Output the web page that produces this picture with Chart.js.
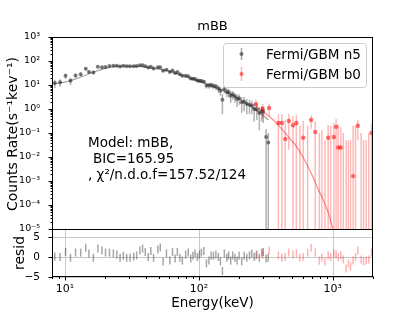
<!DOCTYPE html>
<html>
<head>
<meta charset="utf-8">
<script src="https://cdn.jsdelivr.net/npm/chart.js@4.4.0/dist/chart.umd.min.js"></script>
<style>
html, body { margin: 0; padding: 0; background: #fff; }
</style>
</head>
<body>
<canvas id="chart" width="415" height="311"></canvas>
<script>
const FONT = '"DejaVu Sans", sans-serif';

// Fermi/GBM n5 (NaI)
const n5Energy = [8.4, 9.2, 10.1, 11.0, 12.0, 13.1, 14.3, 15.1, 16.3, 17.6, 18.9, 20.1, 21.5, 23.0, 24.4, 25.8,
    27.3, 28.9, 30.6, 32.6, 34.3, 36.3, 38.0, 39.8, 41.9, 43.8, 45.9, 49.4, 51.5, 54.1, 57.3, 60.7, 63.6, 66.5,
    69.1, 72.2, 75.3, 79.7, 83.3, 87.0, 90.4, 93.7, 97.5, 101, 104.5, 109, 114, 119, 123.7, 128.6, 134, 140,
    145, 150, 155, 162, 167, 173, 179, 186, 193, 200, 209, 218, 228, 239, 249, 259, 271, 283, 295, 303, 318, 330];
const n5Rate = [12, 13, 24, 15, 25, 28, 47, 35, 33, 58, 55, 56, 62, 63, 63, 59,
    63, 60, 60, 61, 62, 66, 66, 60, 54, 57, 49, 55, 55, 39, 43, 35, 40, 32,
    35, 28, 24, 24, 23, 18.6, 18.2, 17.8, 15.5, 15.1, 14.8, 13.8, 9.5, 9.5, 10, 9.1, 8.7, 7.2,
    5.8, 2.4, 6.6, 5.1, 5.0, 3.6, 4.0, 3.3, 2.6, 2.8, 1.9, 2.0, 1.6, 1.5, 1.4, 1.0, 0.95, 0.68, 0.8, 0.76, 0.068, 0.04];
const n5Err = [4.5, 4.5, 6, 5, 5, 5, 6, 5, 5, 6, 5, 5, 5, 5, 5, 5,
    4.5, 4.5, 4.5, 4.5, 4.5, 4.5, 4.5, 4, 4, 4, 4, 4, 4, 4, 4, 3.5, 3.5, 3.5,
    3, 3, 3, 3, 3, 2.5, 2.5, 2.5, 2.5, 2.5, 2.5, 2.5, 2.5, 2.5, 2.5, 2.5, 2.5, 2.5,
    2.3, 1.8, 2.2, 2, 2, 1.8, 1.6, 1.5, 1.4, 1.3, 1.2, 1.2, 1.0, 0.9, 0.8, 0.7, 0.6, 0.55, 0.5, 0.5, 0.08, 0.06];
const n5Resid = [0.1, 0, 1.25, -0.2, 1.1, 1.1, 2.3, 0.9, -0.2, 2.1, 1.6, 1.1, 1.1, 0.9, 0.6, -0.2,
    0.3, -0.2, -0.2, 0.1, 0.4, 1.6, 2.1, 1.25, 0, 1.5, -0.2, 1.9, 2.4, -1.1, 0.9, -0.9, 1.25, -0.4,
    1.25, -0.2, -0.9, 0.6, 1.1, -0.4, 0.3, 0.9, 0, 0.6, 1.1, 1.5, -1.6, -0.9, 0.4, 0.3, 0.6, 0,
    -1.1, -3.5, 0.9, -0.2, 0.4, -0.9, 0.4, -0.2, -0.9, 0.3, -1.1, 0.3, -0.2, 0.4, 0.9, 0, 0.6, -0.2, 1.1, 1.25, -0.4, -0.2];

// Fermi/GBM b0 (BGO)
const b0Energy = [267, 300, 335, 393, 417, 442, 470, 505, 535, 568, 602, 650, 690, 740, 795, 830, 875, 925,
    965, 1020, 1060, 1100, 1150, 1200, 1260, 1310, 1360, 1420, 1480, 1540, 1630, 1700, 1780, 1860, 1950];
const b0Rate = [1.6, 1.0, 1.1, 0.26, 0.26, 0.056, 0.32, 0.21, 0.26, -0.05, 0.063, 0.0, 0.35, 0.11, -0.1, -0.02, -0.15, 0.063,
    0.0, 0.068, 0.18, 0.025, 0.025, -0.1, -0.3, -0.2, -0.3, 0.0016, 0.0, 0.2, -0.1, -0.2, -0.15, -0.1, 0.1];
const b0Err = [0.8, 0.6, 0.6, 0.35, 0.35, 0.3, 0.3, 0.3, 0.3, 0.25, 0.25, 0.2, 0.2, 0.2, 0.2, 0.15, 0.2, 0.15,
    0.2, 0.2, 0.2, 0.2, 0.15, 0.2, 0.35, 0.25, 0.35, 0.2, 0.2, 0.15, 0.2, 0.25, 0.2, 0.2, 0.15];
const b0Resid = [0.4, 0.6, 1.6, 0.4, -0.2, 0, 1.1, 0.6, 0.9, -0.2, 0, 1.1, 2.3, 1.1, -0.9, -0.2, -1.1, 0.4,
    0, 0.9, 0.6, 0, 0.4, -0.6, -2.9, -1.6, -2.4, -0.9, 0, 1.6, -0.6, -1.1, -0.9, -0.6, 1.1];

// fitted mBB model, folded through each detector
const modelN5Energy = [8.2, 10, 13, 16.4, 22, 29, 36, 44, 58, 82, 115, 172, 230, 300, 330];
const modelN5Rate = [11.2, 13.2, 21, 35, 56, 62, 59, 51, 40, 21, 11, 4.2, 1.6, 0.56, 0.35];
const modelB0Energy = [268, 300, 350, 400, 470, 540, 620, 700, 780, 850, 930, 1005];
const modelB0Rate = [1.3, 0.79, 0.4, 0.19, 0.066, 0.026, 0.007, 0.0018, 0.00045, 0.00016, 0.000045, 0.00001];

// ticks
const xTickValues = [10, 100, 1000];
const xTickLabels = ['10¹', '10²', '10³'];
const yTickValues = [1e-5, 1e-4, 1e-3, 1e-2, 1e-1, 1, 10, 100, 1000];
const yTickLabels = ['10⁻⁵', '10⁻⁴', '10⁻³', '10⁻²', '10⁻¹', '10⁰', '10¹', '10²', '10³'];
const residTickValues = [-5, 0, 5];
const residTickLabels = ['−5', '0', '5'];

function toXY(xs, ys) {
    const out = [];
    for (let i = 0; i < xs.length; i++) {
        if (ys[i] > 0) out.push({x: xs[i], y: ys[i]});
    }
    return out;
}

function errBars(ctx, xs, ys, errs, sx, sy, color) {
    ctx.save();
    ctx.beginPath();
    ctx.rect(sx.left, sy.top, sx.right - sx.left, sy.bottom - sy.top);
    ctx.clip();
    ctx.strokeStyle = color;
    ctx.lineWidth = 1.5;
    const isLog = sy.type === 'logarithmic';
    for (let i = 0; i < xs.length; i++) {
        const hi = ys[i] + errs[i], lo = ys[i] - errs[i];
        if (isLog && hi <= 0) continue;
        const px = sx.getPixelForValue(xs[i]);
        const top = sy.getPixelForValue(hi);
        const bot = (isLog && lo <= 0) ? sy.bottom + 2 : sy.getPixelForValue(lo);
        ctx.beginPath();
        ctx.moveTo(px, top);
        ctx.lineTo(px, bot);
        ctx.stroke();
    }
    ctx.restore();
}

function hline(ctx, x1, x2, y) {
    ctx.beginPath(); ctx.moveTo(x1, y); ctx.lineTo(x2, y); ctx.stroke();
}
function vline(ctx, x, y1, y2) {
    ctx.beginPath(); ctx.moveTo(x, y1); ctx.lineTo(x, y2); ctx.stroke();
}

const decor = {
    id: 'decor',
    beforeDatasetsDraw(chart) {
        const ctx = chart.ctx;
        const sx = chart.scales.x, sy = chart.scales.y, sr = chart.scales.yr;
        // grid of the residual panel
        ctx.save();
        ctx.strokeStyle = '#c8c8c8';
        ctx.lineWidth = 1;
        xTickValues.forEach(v => vline(ctx, Math.round(sx.getPixelForValue(v)) + 0.5, sr.top, sr.bottom));
        residTickValues.forEach(v => hline(ctx, sx.left, sx.right, Math.round(sr.getPixelForValue(v)) + 0.5));
        ctx.restore();

        errBars(ctx, n5Energy, n5Rate, n5Err, sx, sy, 'rgba(0,0,0,0.3)');
        errBars(ctx, b0Energy, b0Rate, b0Err, sx, sy, 'rgba(255,0,0,0.28)');
        errBars(ctx, n5Energy, n5Resid, n5Resid.map(() => 1), sx, sr, 'rgba(0,0,0,0.35)');
        errBars(ctx, b0Energy, b0Resid, b0Resid.map(() => 1), sx, sr, 'rgba(255,0,0,0.3)');
    },
    afterDraw(chart) {
        const ctx = chart.ctx;
        const sx = chart.scales.x, sy = chart.scales.y, sr = chart.scales.yr;
        ctx.save();
        // spines
        ctx.strokeStyle = '#000';
        ctx.lineWidth = 1;
        const L = Math.round(sx.left) + 0.5, R = Math.round(sx.right) - 0.5;
        ctx.strokeRect(L, Math.round(sy.top) + 0.5, R - L, Math.round(sy.bottom) - Math.round(sy.top));
        ctx.strokeRect(L, Math.round(sr.top) + 0.5, R - L, Math.round(sr.bottom) - Math.round(sr.top) - 1);

        // tick marks
        const B = Math.round(sr.bottom) - 0.5;
        for (let d = 0; d <= 3; d++) {
            for (let m = 1; m <= 9; m++) {
                const v = m * Math.pow(10, d);
                if (v < sx.min || v > sx.max) continue;
                const p = Math.round(sx.getPixelForValue(v)) + 0.5;
                vline(ctx, p, B, B + (m === 1 ? 4 : 2.5));
            }
        }
        for (let e = -5; e <= 2; e++) {
            for (let m = 1; m <= 9; m++) {
                const v = m * Math.pow(10, e);
                const p = Math.round(sy.getPixelForValue(v)) + 0.5;
                hline(ctx, L - (m === 1 ? 4 : 2), L, p);
            }
        }
        hline(ctx, L - 4, L, Math.round(sy.getPixelForValue(1000)) + 0.5);
        residTickValues.forEach(v => hline(ctx, L - 4, L, Math.round(sr.getPixelForValue(v)) + 0.5));

        // texts
        ctx.fillStyle = '#000';
        ctx.textBaseline = 'middle';
        ctx.textAlign = 'center';
        ctx.font = '13px ' + FONT;
        ctx.fillText('mBB', (sx.left + sx.right) / 2, 27);
        ctx.font = '13.5px ' + FONT;
        ctx.fillText('Energy(keV)', (sx.left + sx.right) / 2, 303);

        ctx.save();
        ctx.translate(13, (sy.top + sy.bottom) / 2 + 1);
        ctx.rotate(-Math.PI / 2);
        ctx.font = '14px ' + FONT;
        ctx.fillText('Counts Rate(s⁻¹kev⁻¹)', 0, 0);
        ctx.restore();
        ctx.save();
        ctx.translate(20, (sr.top + sr.bottom) / 2);
        ctx.rotate(-Math.PI / 2);
        ctx.font = '14px ' + FONT;
        ctx.fillText('resid', 0, 0);
        ctx.restore();

        ctx.textAlign = 'left';
        ctx.font = '13.5px ' + FONT;
        ctx.fillText('Model: mBB,', 88, 143);
        ctx.fillText('BIC=165.95', 93, 159);
        ctx.fillText(', χ²/n.d.o.f=157.52/124', 88, 175);

        // legend
        ctx.fillStyle = 'rgba(255,255,255,0.8)';
        ctx.strokeStyle = '#cccccc';
        ctx.beginPath();
        ctx.roundRect(223.5, 43.5, 143, 44, 3);
        ctx.fill();
        ctx.stroke();
        ctx.lineWidth = 1.5;
        ctx.strokeStyle = 'rgba(0,0,0,0.35)';
        vline(ctx, 241.5, 48, 60);
        ctx.strokeStyle = 'rgba(255,0,0,0.3)';
        vline(ctx, 241.5, 67, 81);
        ctx.fillStyle = 'rgba(60,60,60,0.65)';
        ctx.beginPath(); ctx.arc(241.5, 54, 2, 0, Math.PI * 2); ctx.fill();
        ctx.fillStyle = 'rgba(255,0,0,0.55)';
        ctx.beginPath(); ctx.arc(241.5, 74, 2, 0, Math.PI * 2); ctx.fill();
        ctx.fillStyle = '#000';
        ctx.font = '13.5px ' + FONT;
        ctx.fillText('Fermi/GBM n5', 266, 55);
        ctx.fillText('Fermi/GBM b0', 266, 75);
        ctx.restore();
    }
};

new Chart(document.getElementById('chart'), {
    type: 'scatter',
    data: {
        datasets: [
            {
                data: toXY(modelN5Energy, modelN5Rate), yAxisID: 'y', showLine: true,
                borderColor: 'rgba(0,0,0,0.35)', borderWidth: 1.2, pointRadius: 0,
                cubicInterpolationMode: 'monotone'
            },
            {
                data: toXY(modelB0Energy, modelB0Rate), yAxisID: 'y', showLine: true,
                borderColor: 'rgba(255,0,0,0.45)', borderWidth: 1.2, pointRadius: 0,
                cubicInterpolationMode: 'monotone'
            },
            {
                data: toXY(n5Energy, n5Rate), yAxisID: 'y',
                pointRadius: 2, borderWidth: 0, backgroundColor: 'rgba(60,60,60,0.65)'
            },
            {
                data: toXY(b0Energy, b0Rate), yAxisID: 'y',
                pointRadius: 2.2, borderWidth: 0, backgroundColor: 'rgba(255,0,0,0.55)'
            }
        ]
    },
    options: {
        responsive: false,
        animation: false,
        layout: { padding: { top: 37, right: 42, left: 0, bottom: 0 } },
        plugins: { legend: { display: false }, tooltip: { enabled: false } },
        scales: {
            x: {
                type: 'logarithmic', min: 8, max: 2000, position: 'bottom',
                grid: { display: false }, border: { display: false },
                afterBuildTicks: s => { s.ticks = xTickValues.map(v => ({ value: v })); },
                ticks: {
                    autoSkip: false, maxRotation: 0, padding: -2, color: '#000',
                    font: { size: 11, family: FONT },
                    callback: v => xTickLabels[xTickValues.indexOf(v)] || ''
                },
                afterFit: s => { s.height = 34; }
            },
            // residual panel listed first so the stack puts it underneath
            yr: {
                type: 'linear', min: -5, max: 7, position: 'left',
                stack: 'panels', stackWeight: 1,
                grid: { display: false }, border: { display: false },
                afterBuildTicks: s => { s.ticks = residTickValues.map(v => ({ value: v })); },
                ticks: {
                    autoSkip: false, padding: 4, color: '#000',
                    font: { size: 10.5, family: FONT },
                    callback: v => residTickLabels[residTickValues.indexOf(v)] || ''
                },
                afterFit: s => { s.width = 52; }
            },
            y: {
                type: 'logarithmic', min: 1e-5, max: 1e3, position: 'left',
                stack: 'panels', stackWeight: 4,
                grid: { display: false }, border: { display: false },
                afterBuildTicks: s => { s.ticks = yTickValues.map(v => ({ value: v })); },
                ticks: {
                    autoSkip: false, padding: 4, color: '#000',
                    font: { size: 9.5, family: FONT },
                    callback: v => yTickLabels[yTickValues.indexOf(v)] || ''
                },
                afterFit: s => { s.width = 52; }
            }
        }
    },
    plugins: [decor]
});
</script>
</body>
</html>
